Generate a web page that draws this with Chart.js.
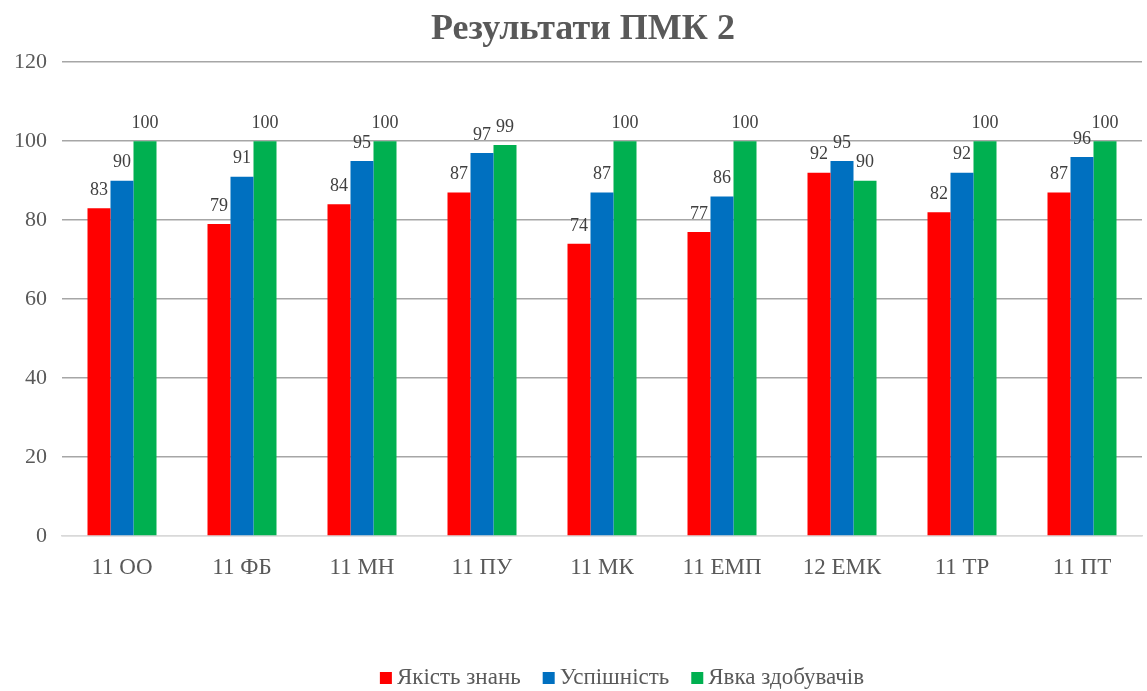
<!DOCTYPE html>
<html>
<head>
<meta charset="utf-8">
<script src="https://cdn.jsdelivr.net/npm/chart.js@4.4.1/dist/chart.umd.min.js"></script>
<style>
html,body{margin:0;padding:0;background:#fff;}
#wrap{width:1147px;height:691px;position:relative;}
</style>
</head>
<body>
<div id="wrap"><canvas id="c" width="1147" height="691"></canvas></div>
<script>
const categories = ['11 ОО','11 ФБ','11 МН','11 ПУ','11 МК','11 ЕМП','12 ЕМК','11 ТР','11 ПТ'];
const seriesNames = ['Якість знань','Успішність','Явка здобувачів'];
const quality = [83,79,84,87,74,77,92,82,87];
const success = [90,91,95,97,87,86,95,92,96];
const attendance = [100,100,100,99,100,100,90,100,100];
const yTicks = [0,20,40,60,80,100,120];

const FONT = "'Liberation Serif','DejaVu Serif',serif";

const labelPlugin = {
  id: 'barLabels',
  afterDatasetsDraw(chart) {
    const ctx = chart.ctx;
    ctx.save();
    ctx.font = "18px " + FONT;
    ctx.fillStyle = '#404040';
    ctx.textAlign = 'center';
    ctx.textBaseline = 'bottom';
    chart.data.datasets.forEach((ds, i) => {
      const meta = chart.getDatasetMeta(i);
      meta.data.forEach((bar, j) => {
        ctx.fillText(String(ds.data[j]), bar.x, bar.y - 9);
      });
    });
    ctx.restore();
  }
};

// Legend drawn below the plot, laid out like the original (slightly right of centre)
const legendPlugin = {
  id: 'customLegend',
  afterDraw(chart) {
    const ctx = chart.ctx;
    ctx.save();
    ctx.font = "23px " + FONT;
    ctx.textBaseline = 'middle';
    ctx.textAlign = 'left';
    const cy = 678;
    const gap = 22, box = 12, textGap = 5;
    const widths = chart.data.datasets.map(ds => box + textGap + ctx.measureText(ds.label).width);
    const total = widths.reduce((a, b) => a + b, 0) + gap * (widths.length - 1);
    let x = 622 - total / 2;
    chart.data.datasets.forEach((ds, i) => {
      ctx.fillStyle = ds.backgroundColor;
      ctx.fillRect(x, cy - box / 2, box, box);
      ctx.fillStyle = '#595959';
      ctx.fillText(ds.label, x + box + textGap, cy);
      x += widths[i] + gap;
    });
    ctx.restore();
  }
};

new Chart(document.getElementById('c'), {
  type: 'bar',
  data: {
    labels: categories,
    datasets: [
      {label: seriesNames[0], data: quality, backgroundColor: '#FF0000'},
      {label: seriesNames[1], data: success, backgroundColor: '#0070C0'},
      {label: seriesNames[2], data: attendance, backgroundColor: '#00B050'}
    ]
  },
  options: {
    responsive: false,
    animation: false,
    devicePixelRatio: 1,
    layout: {padding: {left: 24, right: 5, top: 0, bottom: 43}},
    datasets: {bar: {categoryPercentage: 0.575, barPercentage: 1.0}},
    plugins: {
      title: {
        display: true,
        text: 'Результати ПМК 2',
        color: '#595959',
        font: {family: FONT, size: 36, weight: 'bold'},
        padding: {top: 8, bottom: 11}
      },
      legend: {display: false},
      tooltip: {enabled: false}
    },
    scales: {
      x: {
        grid: {display: false},
        border: {display: true, color: '#d9d9d9', width: 1.5},
        ticks: {color: '#595959', font: {family: FONT, size: 23}, padding: 10},
        afterFit(scale) { scale.height = 112; }
      },
      y: {
        min: 0, max: 120,
        afterBuildTicks(scale) { scale.ticks = yTicks.map(v => ({value: v})); },
        grid: {
          color: (c) => (c.tick && c.tick.value === 0) ? '#d9d9d9' : '#a6a6a6',
          lineWidth: 1.5,
          drawTicks: false
        },
        border: {display: false},
        ticks: {
          color: '#595959', font: {family: FONT, size: 22},
          mirror: true, crossAlign: 'far',
          padding: -48
        },
        afterFit(scale) { scale.width = 38; }
      }
    }
  },
  plugins: [labelPlugin, legendPlugin]
});
</script>
</body>
</html>
